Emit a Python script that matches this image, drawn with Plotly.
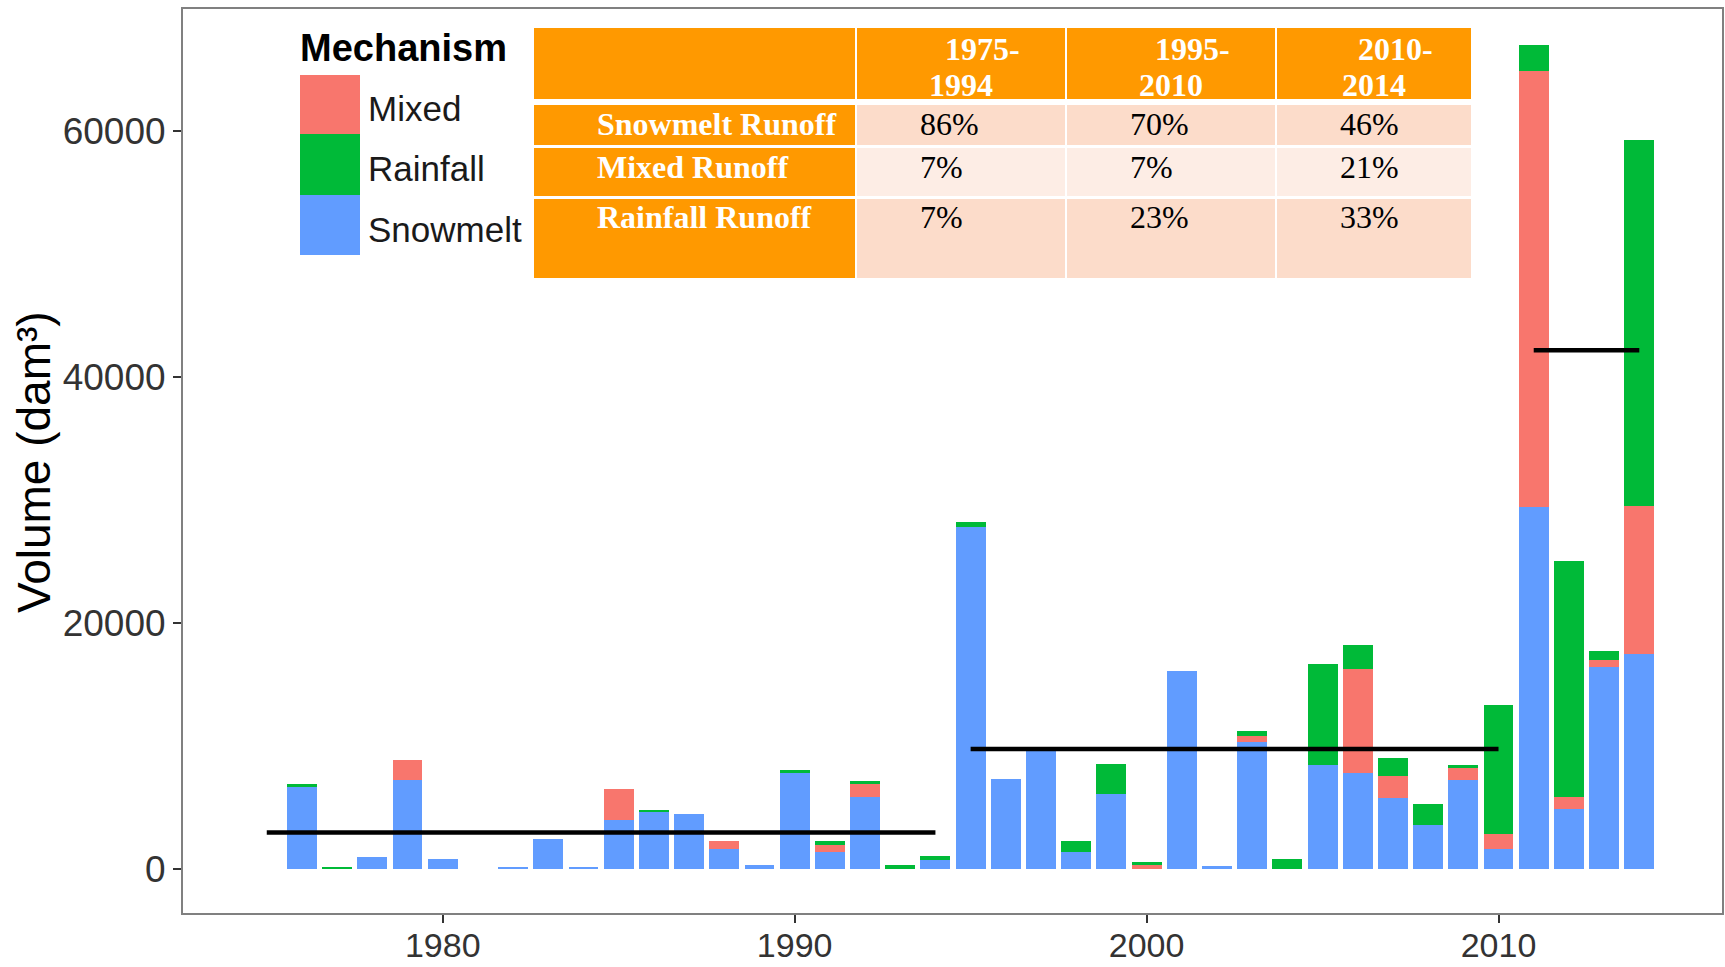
import plotly.graph_objects as go

# ---------------- data ----------------
years = list(range(1976, 2015))
snowmelt = [6710, 0, 1030, 7250, 810, 0, 220, 2460, 200, 4000,
            4680, 4470, 1700, 400, 7880, 1430, 5900, 0, 760, 27820,
            7390, 9600, 1430, 6170, 0, 16100, 300, 10400, 0, 8470,
            7880, 5770, 3600, 7250, 1650, 29450, 4900, 16460, 17540]
mixed = [0, 0, 0, 1630, 0, 0, 0, 0, 0, 2580,
         0, 0, 630, 0, 0, 550, 1080, 0, 0, 0,
         0, 0, 0, 0, 350, 0, 0, 450, 0, 0,
         8390, 1830, 0, 1000, 1270, 35450, 1000, 590, 11990]
rainfall = [270, 220, 0, 0, 0, 0, 0, 0, 0, 0,
            190, 0, 0, 0, 190, 350, 220, 350, 320, 410,
            0, 0, 870, 2430, 250, 0, 0, 380, 840, 8260,
            1950, 1470, 1680, 220, 10420, 2100, 19140, 730, 29770]

period_start = [1975, 1995, 2011]
period_end = [1994, 2010, 2014]
period_mean = [3000, 9800, 42200]

x_ticks = [1980, 1990, 2000, 2010]
y_ticks = [0, 20000, 40000, 60000]
y_tick_labels = ["0", "20000", "40000", "60000"]

series_names = ["Snowmelt", "Mixed", "Rainfall"]
series_colors = ["#619CFF", "#F8766D", "#00BA38"]
legend_order = ["Mixed", "Rainfall", "Snowmelt"]

table_header_l1 = ["1975-", "1995-", "2010-"]
table_header_l2 = ["1994", "2010", "2014"]
table_rows = ["Snowmelt Runoff", "Mixed Runoff", "Rainfall Runoff"]
table_values = [["86%", "70%", "46%"],
                ["7%", "7%", "21%"],
                ["7%", "23%", "33%"]]

# ---------------- figure ----------------
W, H = 1725, 967
L, R, T, B = 183, 3, 9, 54
PW, PH = W - L - R, H - T - B


def px(xp):
    return (xp - L) / PW


def py(yp):
    return (H - B - yp) / PH


fig = go.Figure()
for name, vals, col in zip(series_names, [snowmelt, mixed, rainfall], series_colors):
    fig.add_trace(go.Bar(x=years, y=vals, name=name, width=0.85,
                         marker=dict(color=col, line=dict(width=0)),
                         showlegend=False))

lx, ly = [], []
for s, e, m in zip(period_start, period_end, period_mean):
    lx += [s, e, None]
    ly += [m, m, None]
fig.add_trace(go.Scatter(x=lx, y=ly, mode="lines",
                         line=dict(color="black", width=4.5),
                         showlegend=False, hoverinfo="skip"))

shapes = []
annotations = []

# --- legend (manual) ---
annotations.append(dict(text="<b>Mechanism</b>", xref="paper", yref="paper",
                        x=px(298), y=py(48), xanchor="left", yanchor="middle",
                        showarrow=False,
                        font=dict(family="Liberation Sans, Arial", size=38, color="black")))
key_top = [75, 134, 195]
key_bot = [134, 195, 255]
for nm, t0, b0 in zip(legend_order, key_top, key_bot):
    col = series_colors[series_names.index(nm)]
    shapes.append(dict(type="rect", xref="paper", yref="paper",
                       x0=px(300), x1=px(360), y0=py(b0), y1=py(t0),
                       fillcolor=col, line=dict(width=0), layer="above"))
    annotations.append(dict(text=nm, xref="paper", yref="paper",
                            x=px(366), y=py((t0 + b0) / 2 + 4),
                            xanchor="left", yanchor="middle", showarrow=False,
                            font=dict(family="Liberation Sans, Arial", size=35,
                                      color="#1a1a1a")))

# --- table (manual) ---
orange = "#FF9900"
peach = "#FCDCCA"
peach_light = "#FDEDE5"
cols = [(534, 855), (857, 1065), (1067, 1275), (1277, 1471)]
rows = [(28, 99), (105, 145), (148, 196), (199, 278)]
row_fill = [peach, peach_light, peach]
for ri, (r0, r1) in enumerate(rows):
    for ci, (c0, c1) in enumerate(cols):
        if ri == 0 or ci == 0:
            fc = orange
        else:
            fc = row_fill[ri - 1]
        shapes.append(dict(type="rect", xref="paper", yref="paper",
                           x0=px(c0), x1=px(c1), y0=py(r1), y1=py(r0),
                           fillcolor=fc, line=dict(width=0), layer="above"))

serif = "Liberation Serif, Times New Roman, serif"
TS = 32
for ci in range(3):
    c0, c1 = cols[ci + 1]
    cc = (c0 + c1) / 2
    annotations.append(dict(text="<b>%s</b>" % table_header_l1[ci], xref="paper", yref="paper",
                            x=px(cc + 21), y=py(49), xanchor="center", yanchor="middle",
                            showarrow=False, font=dict(family=serif, size=TS, color="white")))
    annotations.append(dict(text="<b>%s</b>" % table_header_l2[ci], xref="paper", yref="paper",
                            x=px(cc), y=py(85), xanchor="center", yanchor="middle",
                            showarrow=False, font=dict(family=serif, size=TS, color="white")))

row_text_y = [124, 167, 217]
for ri in range(3):
    annotations.append(dict(text="<b>%s</b>" % table_rows[ri], xref="paper", yref="paper",
                            x=px(595), y=py(row_text_y[ri]), xanchor="left", yanchor="middle",
                            showarrow=False, font=dict(family=serif, size=TS, color="white")))
    for ci in range(3):
        c0, c1 = cols[ci + 1]
        annotations.append(dict(text=table_values[ri][ci], xref="paper", yref="paper",
                                x=px(c0 + 61), y=py(row_text_y[ri]), xanchor="left",
                                yanchor="middle", showarrow=False,
                                font=dict(family=serif, size=TS, color="black")))

# --- y axis title ---
annotations.append(dict(text="Volume (dam³)", xref="paper", yref="paper",
                        x=px(34), y=py(462), xanchor="center", yanchor="middle",
                        textangle=-90, showarrow=False,
                        font=dict(family="Liberation Sans, Arial", size=46, color="black")))

fig.update_layout(
    width=W, height=H,
    margin=dict(l=L, r=R, t=T, b=B),
    barmode="stack", bargap=0,
    plot_bgcolor="white", paper_bgcolor="white",
    shapes=shapes, annotations=annotations,
    showlegend=False,
    font=dict(family="Liberation Sans, Arial"),
    xaxis=dict(range=[1972.62, 2016.35], tickvals=x_ticks,
               ticks="outside", ticklen=8, tickwidth=2, tickcolor="#333333",
               showline=True, linecolor="#808080", linewidth=2, mirror=True,
               showgrid=False, zeroline=False, automargin=False,
               ticklabelstandoff=-7,
               tickfont=dict(size=34, color="#333333")),
    yaxis=dict(range=[-3540, 69940], tickvals=y_ticks, ticktext=y_tick_labels,
               ticks="outside", ticklen=8, tickwidth=2, tickcolor="#333333",
               showline=True, linecolor="#808080", linewidth=2, mirror=True,
               showgrid=False, zeroline=False, automargin=False,
               tickfont=dict(size=37, color="#333333")),
)

fig.write_html("out.html",
               config={"displayModeBar": False},
               post_script="document.body.style.margin='0';document.body.style.padding='0';document.body.style.overflow='hidden';")
